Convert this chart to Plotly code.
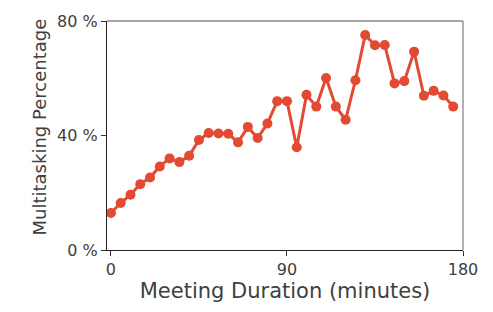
import plotly.graph_objects as go

minutes = list(range(0, 180, 5))
multitasking_pct = [12.9, 16.4, 19.3, 23.0, 25.3, 29.2, 32.0, 30.7, 32.9, 38.4,
                    40.9, 40.7, 40.6, 37.6, 43.0, 39.1, 44.2, 52.0, 52.0, 35.9,
                    54.2, 50.1, 60.1, 50.1, 45.5, 59.3, 75.1, 71.5, 71.6, 58.2,
                    59.0, 69.3, 53.9, 55.6, 54.0, 50.1]
x_ticks = [0, 90, 180]
y_ticks = [0, 40, 80]
y_tick_labels = ["0 %", "40 %", "80 %"]

color = "#E24A33"
fig = go.Figure(go.Scatter(
    x=minutes, y=multitasking_pct, mode="lines+markers",
    line=dict(color=color, width=3),
    marker=dict(color=color, size=10),
))

font = "DejaVu Sans"
txt = "#404040"
fig.update_layout(
    width=493, height=312,
    margin=dict(l=107, r=30, t=18, b=62),
    paper_bgcolor="white", plot_bgcolor="white",
    showlegend=False,
    font=dict(family=font, color=txt),
    xaxis=dict(range=[-2, 180], tickvals=x_ticks, ticks="outside", ticklen=5,
               tickcolor="#333", showline=True, linecolor="#222", linewidth=1.3,
               showgrid=False, zeroline=False,
               tickfont=dict(size=16, color=txt),
               title=dict(text="Meeting Duration (minutes)", font=dict(size=21, color=txt),
                          standoff=2)),
    yaxis=dict(range=[0, 80], tickvals=y_ticks, ticktext=y_tick_labels,
               ticks="outside", ticklen=5, tickcolor="#333",
               showline=True, linecolor="#222", linewidth=1.3,
               showgrid=False, zeroline=False,
               tickfont=dict(size=16, color=txt)),
)
fig.add_annotation(text="Multitasking Percentage", textangle=-90,
                   xref="paper", yref="paper", x=-68/356, y=0.535,
                   xanchor="center", yanchor="middle", showarrow=False,
                   font=dict(size=18, color=txt, family=font))
fig.add_shape(type="line", xref="paper", yref="paper", x0=0, x1=1, y0=1, y1=1,
              line=dict(color="#888", width=1.3))
fig.add_shape(type="line", xref="paper", yref="paper", x0=1, x1=1, y0=0, y1=1,
              line=dict(color="#888", width=1.3))
fig.write_html("out.html")
